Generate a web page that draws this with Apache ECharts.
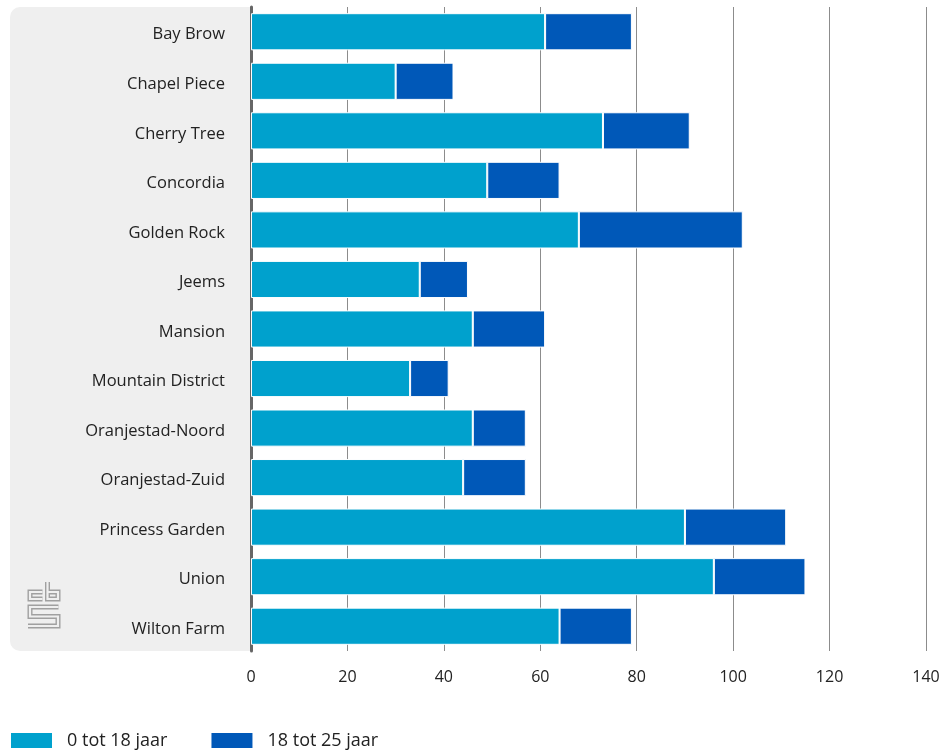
<!DOCTYPE html>
<html>
<head>
<meta charset="utf-8">
<script src="https://cdn.jsdelivr.net/npm/echarts@6/dist/echarts.min.js"></script>
<style>html,body{margin:0;padding:0;background:#fff}#c{width:950px;height:753px}</style>
</head>
<body>
<div id="c"></div>
<script>
var categories = ['Bay Brow','Chapel Piece','Cherry Tree','Concordia','Golden Rock','Jeems','Mansion','Mountain District','Oranjestad-Noord','Oranjestad-Zuid','Princess Garden','Union','Wilton Farm'];
var seriesNames = ['0 tot 18 jaar','18 tot 25 jaar'];
var young = [61,30,73,49,68,35,46,33,46,44,90,96,64];
var older = [18,12,18,15,34,10,15,8,11,13,21,19,15];
var xTicks = [0,20,40,60,80,100,120,140];

var FONT = 'Open Sans';
var chart = echarts.init(document.getElementById('c'), null, {renderer:'canvas'});
var logoPaths = [
  [[42.5,592],[30,592],[30,599],[42.5,599]],
  [[47.5,582],[47.5,599],[58,599],[58,592],[47.5,592]],
  [[58.5,607],[30,607],[30,616.5],[58,616.5],[58,626],[28,626]]
];
var gfx = [{type:'rect', shape:{x:10,y:7,width:241,height:644,r:[10,0,0,10]}, style:{fill:'#efefef'}, z:-10}];
logoPaths.forEach(function(p){
  gfx.push({type:'polyline', shape:{points:p}, style:{stroke:'#a0a0a0', lineWidth:5, fill:null, lineJoin:'miter', lineCap:'butt'}, z:-5});
});
logoPaths.forEach(function(p){
  gfx.push({type:'polyline', shape:{points:p}, style:{stroke:'#efefef', lineWidth:2.2, fill:null, lineJoin:'miter', lineCap:'butt'}, z:-4});
});
chart.setOption({
  animation:false,
  color:['#00a1cd','#0058b8'],
  textStyle:{fontFamily:FONT},
  graphic:gfx,
  grid:{left:251, right:24, top:7, bottom:102, containLabel:false},
  legend:{
    left:9, bottom:3, padding:0, itemWidth:43, itemHeight:17, itemGap:42,
    icon:'rect',
    textStyle:{fontFamily:FONT, fontSize:18, color:'#222', padding:[0,0,0,9]},
    data:seriesNames
  },
  xAxis:{
    type:'value', min:0, max:140, interval:20,
    axisLine:{show:false}, axisTick:{show:false},
    axisLabel:{fontFamily:FONT, fontSize:16, color:'#222', margin:18,
      formatter:function(v){ return xTicks.indexOf(v)>=0 ? String(v) : ''; }},
    splitLine:{show:true, lineStyle:{color:'#8c8c8c', width:1}}
  },
  yAxis:{
    type:'category', data:categories, inverse:true,
    axisLine:{show:true, lineStyle:{color:'#666', width:3}},
    axisTick:{show:false},
    axisLabel:{fontFamily:FONT, fontSize:16.5, color:'#222', margin:26, verticalAlign:'top', lineHeight:6}
  },
  series:[
    {name:seriesNames[0], type:'bar', stack:'t', data:young, barWidth:'75%',
     itemStyle:{borderColor:'#fff', borderWidth:1}},
    {name:seriesNames[1], type:'bar', stack:'t', data:older, barWidth:'75%',
     itemStyle:{borderColor:'#fff', borderWidth:1}}
  ]
});
</script>
</body>
</html>
